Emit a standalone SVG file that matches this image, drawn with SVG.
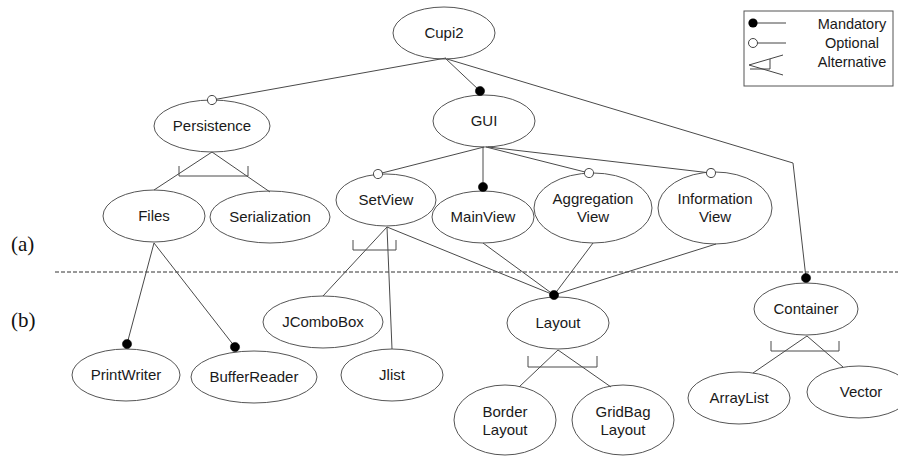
<svg xmlns="http://www.w3.org/2000/svg" width="898" height="457" viewBox="0 0 898 457">
<style>
.n ellipse{fill:#fff;stroke:#555;stroke-width:1}
.n text, .lg text{font-family:"Liberation Sans",Arial,sans-serif;font-size:15px;fill:#1a1a1a;text-anchor:middle}
.c line,.c polyline,.c path{stroke:#4a4a4a;stroke-width:1;fill:none}
.lbl{font-family:"Liberation Serif","Times New Roman",serif;font-size:21px;fill:#111}
</style>
<defs>
<marker id="mand" markerUnits="userSpaceOnUse" markerWidth="12" markerHeight="12" refX="6" refY="6" orient="auto">
<circle cx="6" cy="6" r="4.6" fill="#000" stroke="#000" stroke-width="0.5"/>
</marker>
<marker id="opt" markerUnits="userSpaceOnUse" markerWidth="12" markerHeight="12" refX="6" refY="6" orient="auto">
<circle cx="6" cy="6" r="4.5" fill="#fff" stroke="#444" stroke-width="1"/>
</marker>
</defs>
<rect width="898" height="457" fill="#fff"/>

<!-- section labels and separator -->
<text class="lbl" x="11" y="251">(a)</text>
<text class="lbl" x="11" y="327">(b)</text>
<line x1="55" y1="272" x2="898" y2="272" stroke="#333" stroke-width="1" stroke-dasharray="4,2"/>

<g id="cupi2" class="n"><ellipse cx="444" cy="33" rx="51" ry="26"/><text x="444" y="38">Cupi2</text></g>
<g id="persistence" class="n"><ellipse cx="212" cy="126" rx="58" ry="26"/><text x="212" y="131">Persistence</text></g>
<g id="gui" class="n"><ellipse cx="484" cy="121" rx="51" ry="26"/><text x="484" y="126">GUI</text></g>
<g id="files" class="n"><ellipse cx="154" cy="216" rx="51" ry="26"/><text x="154" y="221">Files</text></g>
<g id="serialization" class="n"><ellipse cx="270" cy="217" rx="60" ry="26"/><text x="270" y="222">Serialization</text></g>
<g id="setview" class="n"><ellipse cx="386" cy="200" rx="50" ry="26"/><text x="386" y="205">SetView</text></g>
<g id="mainview" class="n"><ellipse cx="483" cy="217" rx="51" ry="26"/><text x="483" y="222">MainView</text></g>
<g id="aggregationview" class="n"><ellipse cx="593" cy="208" rx="59" ry="35"/><text x="593" y="204">Aggregation</text><text x="593" y="222">View</text></g>
<g id="informationview" class="n"><ellipse cx="715" cy="208" rx="57" ry="36"/><text x="715" y="204">Information</text><text x="715" y="222">View</text></g>
<g id="jcombobox" class="n"><ellipse cx="323" cy="322" rx="60" ry="26"/><text x="323" y="327">JComboBox</text></g>
<g id="jlist" class="n"><ellipse cx="392" cy="375" rx="51" ry="26"/><text x="392" y="380">Jlist</text></g>
<g id="printwriter" class="n"><ellipse cx="126" cy="375" rx="54" ry="26"/><text x="126" y="380">PrintWriter</text></g>
<g id="bufferreader" class="n"><ellipse cx="254" cy="377" rx="63" ry="26"/><text x="254" y="382">BufferReader</text></g>
<g id="layout" class="n"><ellipse cx="558" cy="323" rx="51" ry="26"/><text x="558" y="328">Layout</text></g>
<g id="borderlayout" class="n"><ellipse cx="505" cy="420" rx="51" ry="35"/><text x="505" y="417">Border</text><text x="505" y="435">Layout</text></g>
<g id="gridbaglayout" class="n"><ellipse cx="623" cy="420" rx="51" ry="35"/><text x="623" y="417">GridBag</text><text x="623" y="435">Layout</text></g>
<g id="container" class="n"><ellipse cx="806" cy="309" rx="52" ry="26"/><text x="806" y="314">Container</text></g>
<g id="arraylist" class="n"><ellipse cx="739" cy="398" rx="51" ry="26"/><text x="739" y="403">ArrayList</text></g>
<g id="vector" class="n"><ellipse cx="859" cy="392" rx="52" ry="26"/><text x="861" y="397">Vector</text></g>

<g id="connectors" class="c">
<line x1="446" y1="58" x2="212" y2="100" marker-end="url(#opt)"/>
<line x1="445" y1="58" x2="480" y2="91" marker-end="url(#mand)"/>
<polyline points="447,59 793,163 806,278" marker-end="url(#mand)"/>
<line x1="484" y1="147" x2="378" y2="174" marker-end="url(#opt)"/>
<line x1="483" y1="147" x2="483" y2="187" marker-end="url(#mand)"/>
<line x1="486" y1="147" x2="589" y2="173" marker-end="url(#opt)"/>
<line x1="488" y1="147" x2="711" y2="173" marker-end="url(#opt)"/>
<!-- Persistence alternative -->
<line x1="212" y1="152" x2="154" y2="190"/>
<line x1="212" y1="152" x2="270" y2="192"/>
<path d="M179,166 V176 H248 V166"/>
<!-- SetView alternative -->
<line x1="387" y1="227" x2="323" y2="296"/>
<line x1="387" y1="227" x2="392" y2="349"/>
<path d="M353,240 V250 H396 V240"/>
<!-- to Layout -->
<line x1="483" y1="243" x2="554" y2="295"/>
<line x1="593" y1="243" x2="554" y2="295"/>
<line x1="716" y1="244" x2="554" y2="295"/>
<line x1="387" y1="227" x2="554" y2="295" marker-end="url(#mand)"/>
<!-- Files -->
<line x1="154" y1="243" x2="127" y2="344" marker-end="url(#mand)"/>
<line x1="154" y1="243" x2="235" y2="347" marker-end="url(#mand)"/>
<!-- Layout alternative -->
<line x1="558" y1="350" x2="519" y2="387"/>
<line x1="558" y1="350" x2="611" y2="387"/>
<path d="M528,356 V367 H597 V356"/>
<!-- Container alternative -->
<line x1="807" y1="336" x2="753" y2="373"/>
<line x1="807" y1="336" x2="843" y2="367"/>
<path d="M771,341 V351 H839 V341"/>
</g>

<g id="legend" class="lg">
<rect x="744" y="11" width="149" height="75" fill="#fff" stroke="#555" stroke-width="1"/>
<line x1="753" y1="23" x2="786" y2="23" stroke="#444"/>
<circle cx="753" cy="23" r="4.6" fill="#000"/>
<line x1="753" y1="43" x2="786" y2="43" stroke="#444"/>
<circle cx="753" cy="43" r="4.5" fill="#fff" stroke="#444"/>
<path d="M749,65 L783,55 M749,65 L783,75 M750,69 H770 V59" stroke="#444" fill="none"/>
<text x="852" y="29" style="font-size:14.5px">Mandatory</text>
<text x="852" y="48" style="font-size:14.5px">Optional</text>
<text x="852" y="67" style="font-size:14.5px">Alternative</text>
</g>
</svg>
